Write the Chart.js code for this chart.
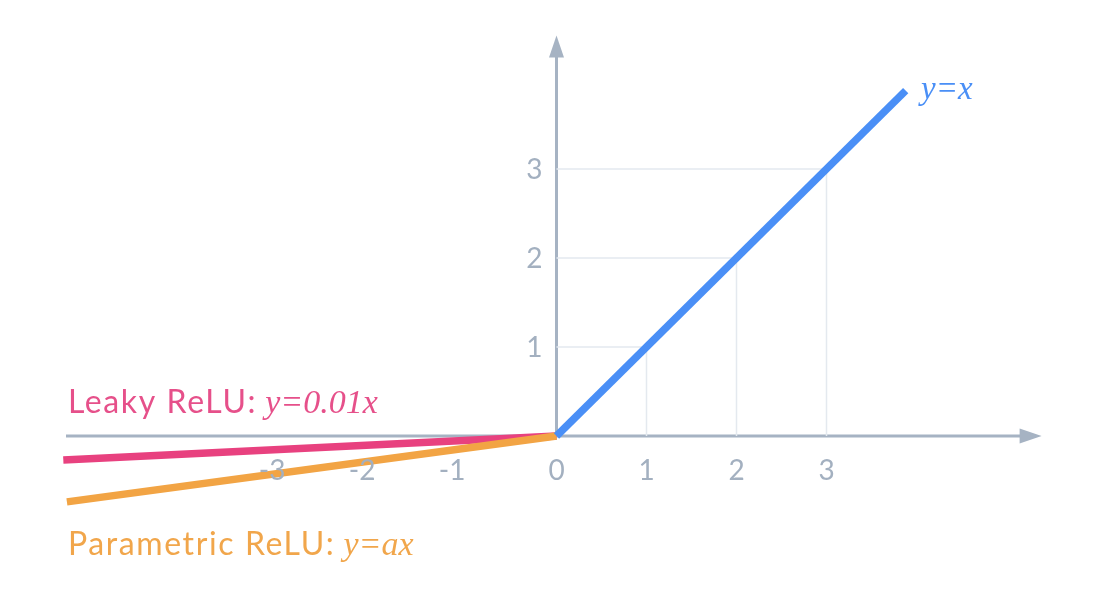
<!DOCTYPE html>
<html>
<head>
<meta charset="utf-8">
<script src="https://cdn.jsdelivr.net/npm/chart.js@4/dist/chart.umd.min.js"></script>
<style>
html,body{margin:0;padding:0;background:#fff;}
canvas{display:block;}
</style>
</head>
<body>
<canvas id="c" width="1094" height="594"></canvas>
<script>
// ---- data ----
const identityX = [0, 3.88];
const identityY = [0, 3.88];
const leakyX = [-5.48, 0];
const leakyY = [-0.27, 0];
const paramX = [-5.44, 0];
const paramY = [-0.74, 0];
const guideValues = [1, 2, 3];
const xTickValues = [-3, -2, -1, 0, 1, 2, 3];
const xTickLabels = ['-3', '-2', '-1', '0', '1', '2', '3'];
const yTickValues = [1, 2, 3];
const yTickLabels = ['1', '2', '3'];
const xAxisRange = [-5.45, 5.39];
const yAxisRange = [0, 4.5];
const identityLabel = ['', 'y=x'];
const leakyLabel = ['Leaky ReLU:', 'y=0.01x'];
const paramLabel = ['Parametric ReLU:', 'y=ax'];

// ---- styles ----
const BLUE = '#4a8ff6', PINK = '#e8417f', ORANGE = '#f2a444';
const PINK_TXT = '#e6508a', ORANGE_TXT = '#f1a64b';
const AXIS = '#a6b3c3', GRID = '#e4e9ef', TICK = '#a3b0c0';
const SANS = 'Lato, "Open Sans", sans-serif';
const SERIF = '"Liberation Serif", "DejaVu Serif", serif';

const toPts = (xs, ys) => xs.map((x, i) => ({x, y: ys[i]}));

const guideSets = guideValues.map(v => ({
  data: [{x: 0, y: v}, {x: v, y: v}, {x: v, y: 0}],
  borderColor: GRID, borderWidth: 1.5, pointRadius: 0, order: 10, tension: 0
}));

const axesPlugin = {
  id: 'axes',
  beforeDatasetsDraw(chart) {
    const {ctx, scales: {x, y}} = chart;
    const x0 = x.getPixelForValue(0), y0 = y.getPixelForValue(0);
    const xl = x.getPixelForValue(xAxisRange[0]), xr = x.getPixelForValue(xAxisRange[1]);
    const yt = y.getPixelForValue(yAxisRange[1]);
    ctx.save();
    ctx.strokeStyle = AXIS; ctx.fillStyle = AXIS; ctx.lineWidth = 3;
    ctx.beginPath(); ctx.moveTo(xl, y0); ctx.lineTo(xr - 18, y0); ctx.stroke();
    ctx.beginPath(); ctx.moveTo(xr, y0); ctx.lineTo(xr - 22, y0 - 7.5); ctx.lineTo(xr - 22, y0 + 7.5); ctx.closePath(); ctx.fill();
    ctx.beginPath(); ctx.moveTo(x0, y0); ctx.lineTo(x0, yt + 18); ctx.stroke();
    ctx.beginPath(); ctx.moveTo(x0, yt); ctx.lineTo(x0 - 7.5, yt + 22); ctx.lineTo(x0 + 7.5, yt + 22); ctx.closePath(); ctx.fill();
    ctx.restore();
  },
  afterDatasetsDraw(chart) {
    const {ctx, scales: {x, y}} = chart;
    const x0 = x.getPixelForValue(0), y0 = y.getPixelForValue(0);
    ctx.save();
    ctx.fillStyle = TICK;
    ctx.font = '400 28px ' + SANS;
    ctx.textBaseline = 'middle';
    xTickValues.forEach((v, i) => {
      const px = x.getPixelForValue(v);
      if (v < 0) { ctx.textAlign = 'right'; ctx.fillText(xTickLabels[i], px - 1, y0 + 35); }
      else { ctx.textAlign = 'center'; ctx.fillText(xTickLabels[i], px, y0 + 35); }
    });
    ctx.textAlign = 'right';
    yTickValues.forEach((v, i) => {
      ctx.fillText(yTickLabels[i], x0 - 14, y.getPixelForValue(v) + 1);
    });
    // series labels
    ctx.textBaseline = 'alphabetic';
    ctx.textAlign = 'left';
    const drawLabel = (parts, color, px, py, sansSize, serifSize) => {
      ctx.fillStyle = color;
      let cx = px;
      if (parts[0]) {
        ctx.font = '400 ' + sansSize + 'px ' + SANS;
        ctx.letterSpacing = '1.6px';
        ctx.fillText(parts[0], cx, py);
        cx += ctx.measureText(parts[0]).width + 8;
        ctx.letterSpacing = '0px';
      }
      ctx.font = 'italic ' + serifSize + 'px ' + SERIF;
      ctx.fillText(parts[1], cx, py);
    };
    drawLabel(leakyLabel, PINK_TXT, 68, 413, 32, 34);
    drawLabel(paramLabel, ORANGE_TXT, 68, 555, 32, 34);
    drawLabel(identityLabel, BLUE, 921, 99, 32, 33);
    ctx.restore();
  }
};

new Chart(document.getElementById('c'), {
  type: 'line',
  data: {
    datasets: [
      ...guideSets,
      {data: toPts(leakyX, leakyY), borderColor: PINK, borderWidth: 7.5, pointRadius: 0, order: 3, borderCapStyle: 'butt'},
      {data: toPts(paramX, paramY), borderColor: ORANGE, borderWidth: 7.5, pointRadius: 0, order: 2, borderCapStyle: 'butt'},
      {data: toPts(identityX, identityY), borderColor: BLUE, borderWidth: 7.5, pointRadius: 0, order: 1, borderCapStyle: 'butt'}
    ]
  },
  options: {
    responsive: false,
    animation: false,
    events: [],
    layout: {padding: 0},
    plugins: {legend: {display: false}, tooltip: {enabled: false}},
    scales: {
      x: {type: 'linear', display: false, min: -556.5 / 90, max: (1094 - 556.5) / 90},
      y: {type: 'linear', display: false, min: -(594 - 436) / 89, max: 436 / 89}
    }
  },
  plugins: [axesPlugin]
});
</script>
</body>
</html>
